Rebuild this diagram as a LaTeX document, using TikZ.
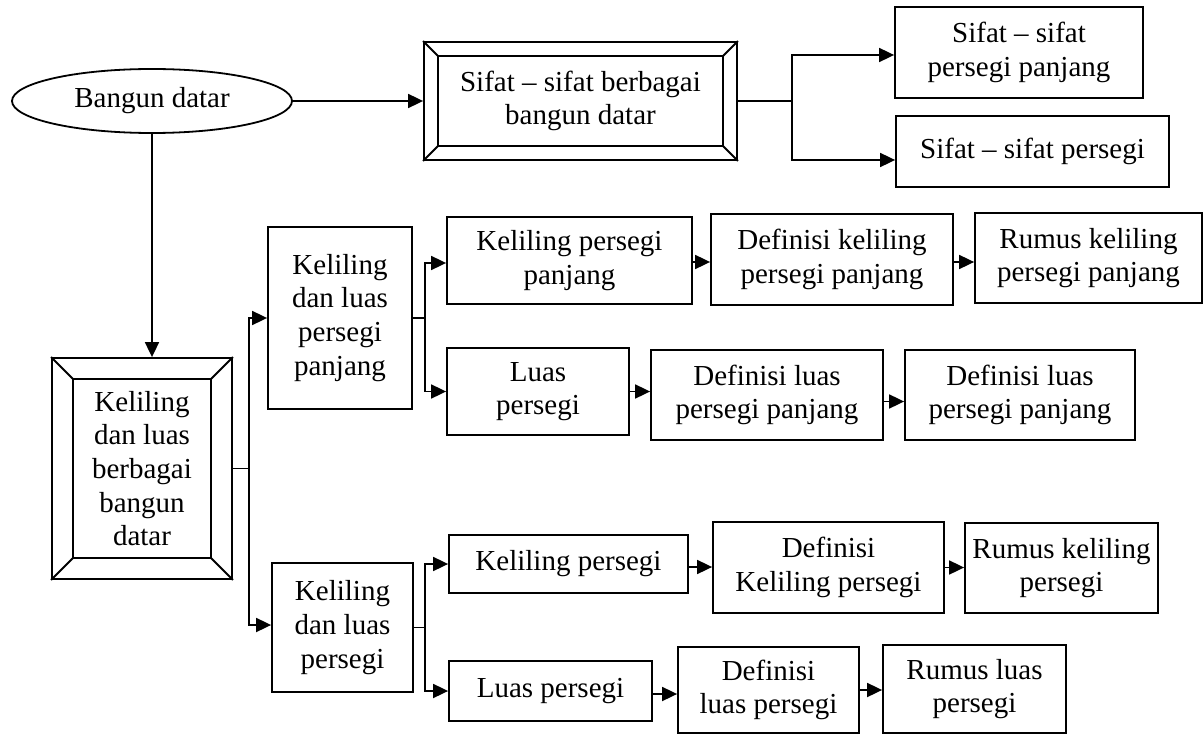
\documentclass[tikz,border=0pt]{standalone}
\usepackage{fontspec}
\setmainfont{Liberation Serif}
\usetikzlibrary{arrows.meta,calc,shapes.geometric}
\tikzset{
  box/.style={draw,line width=1.8pt,rectangle,inner sep=0pt,align=center,
    font=\fontsize{29}{33.7}\selectfont},
  ellbox/.style={draw,line width=1.8pt,ellipse,inner sep=0pt,align=center,
    font=\fontsize{29}{33.7}\selectfont},
  conn/.style={line width=1.8pt},
  arr/.style={line width=1.8pt,-{Triangle[length=15pt,width=14pt]}},
  bevel/.style={line width=1.8pt}
}
\begin{document}
\begin{tikzpicture}[x=1pt,y=-1pt]
\useasboundingbox (0,0) rectangle (1204,735);
% nodes
\node[ellbox,minimum width=280pt,minimum height=64pt] (ell) at (152,101) {Bangun datar};
\node[box,minimum width=313pt,minimum height=118pt] (sb) at (580.5,101) {Sifat -- sifat berbagai\\bangun datar};
\node[box,minimum width=180pt,minimum height=221pt] (kb) at (142,468.5) {Keliling\\dan luas\\berbagai\\bangun\\datar};
\node[box,minimum width=248pt,minimum height=91pt] (spp) at (1019,52.5) {Sifat -- sifat\\persegi panjang};
\node[box,minimum width=273pt,minimum height=71pt] (sp) at (1032.5,151.5) {\raisebox{6pt}{Sifat -- sifat persegi}};
\node[box,minimum width=144pt,minimum height=182pt] (klpp) at (340,318) {\raisebox{6pt}{\begin{tabular}{@{}c@{}}Keliling\\dan luas\\persegi\\panjang\end{tabular}}};
\node[box,minimum width=245pt,minimum height=87pt] (kpp) at (569.5,260.5) {Keliling persegi\\panjang};
\node[box,minimum width=182pt,minimum height=87pt] (lpt) at (538,391.5) {Luas\\persegi};
\node[box,minimum width=242pt,minimum height=91pt] (dkpp) at (832,259.5) {Definisi keliling\\persegi panjang};
\node[box,minimum width=227pt,minimum height=90pt] (rkpp) at (1088.5,258) {Rumus keliling\\persegi panjang};
\node[box,minimum width=232pt,minimum height=90pt] (dlpp1) at (767,395) {Definisi luas\\persegi panjang};
\node[box,minimum width=230pt,minimum height=90pt] (dlpp2) at (1020,395) {Definisi luas\\persegi panjang};
\node[box,minimum width=141pt,minimum height=129pt] (klp) at (342.5,627.5) {Keliling\\dan luas\\persegi};
\node[box,minimum width=239pt,minimum height=58pt] (kp) at (568.5,564) {Keliling persegi};
\node[box,minimum width=203pt,minimum height=60pt] (lp) at (550.5,691) {Luas persegi};
\node[box,minimum width=231pt,minimum height=91pt] (dkp) at (828.5,567.5) {Definisi\\Keliling persegi};
\node[box,minimum width=193pt,minimum height=90pt] (rkp) at (1061.5,568) {Rumus keliling\\persegi};
\node[box,minimum width=181pt,minimum height=86pt] (dlp) at (768.5,690) {Definisi\\luas persegi};
\node[box,minimum width=183pt,minimum height=88pt] (rlp) at (974.5,689) {Rumus luas\\persegi};
% bevels
\foreach \n/\b in {sb/15,kb/22}{
  \coordinate (\n-a) at ($(\n.north west)+(\b,\b)$);
  \coordinate (\n-b) at ($(\n.north east)+(-\b,\b)$);
  \coordinate (\n-c) at ($(\n.south east)+(-\b,-\b)$);
  \coordinate (\n-d) at ($(\n.south west)+(\b,-\b)$);
  \draw[bevel] (\n-a) -- (\n-b) -- (\n-c) -- (\n-d) -- cycle;
  \draw[bevel] (\n.north west) -- (\n-a);
  \draw[bevel] (\n.north east) -- (\n-b);
  \draw[bevel] (\n.south east) -- (\n-c);
  \draw[bevel] (\n.south west) -- (\n-d);
}
% connectors
\draw[arr] (ell.south) -- (ell.south |- kb.north);
\draw[arr] (ell.east) -- (sb.west);
\draw[conn] (sb.east) -- ++(54,0) coordinate (b1);
\draw[arr] (b1) |- ($(spp.west)+(0,2.5)$);
\draw[arr] (b1) |- ($(sp.west)+(0,8.5)$);
\draw[conn] (kb.east) -- ++(16,0) coordinate (b2);
\draw[arr] (b2) |- (klpp.west);
\draw[arr] (b2) |- ($(klp.west)+(0,-2.5)$);
\draw[conn] (klpp.east) -- ++(12,0) coordinate (b3);
\draw[arr] (b3) |- ($(kpp.west)+(0,2.5)$);
\draw[arr] (b3) |- (lpt.west);
\draw[arr] ($(kpp.east)+(0,1.5)$) -- ($(kpp.east -| dkpp.west)+(0,1.5)$);
\draw[arr] ($(dkpp.east)+(0,2.5)$) -- ($(dkpp.east -| rkpp.west)+(0,2.5)$);
\draw[arr] (lpt.east) -- (lpt.east -| dlpp1.west);
\draw[arr] ($(dlpp1.east)+(0,6.5)$) -- ($(dlpp1.east -| dlpp2.west)+(0,6.5)$);
\draw[conn] (klp.east) -- ++(11,0) coordinate (b4);
\draw[arr] (b4) |- (kp.west);
\draw[arr] (b4) |- (lp.west);
\draw[arr] ($(kp.east)+(0,3)$) -- ($(kp.east -| dkp.west)+(0,3)$);
\draw[arr] (dkp.east) -- (dkp.east -| rkp.west);
\draw[arr] ($(lp.east)+(0,3)$) -- ($(lp.east -| dlp.west)+(0,3)$);
\draw[arr] (dlp.east) -- (dlp.east -| rlp.west);
\end{tikzpicture}
\end{document}
